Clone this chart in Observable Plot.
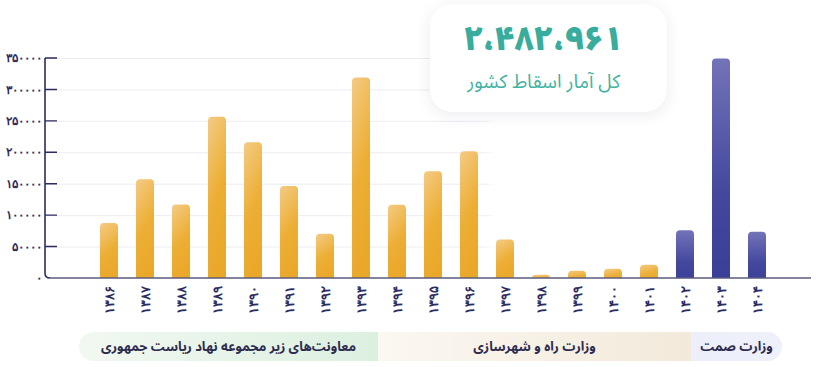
<!DOCTYPE html>
<html><head><meta charset="utf-8">
<script src="https://cdn.jsdelivr.net/npm/d3@7"></script>
<script src="https://cdn.jsdelivr.net/npm/@observablehq/plot@0.6"></script>
<style>
html,body{margin:0;padding:0;background:#fff;}
#wrap{position:relative;width:820px;height:367px;overflow:hidden;font-family:"Noto Sans Arabic","Vazirmatn","DejaVu Sans",sans-serif;}
#chart{position:absolute;left:0;top:0;}
#card{position:absolute;left:430px;top:4px;width:237px;height:108px;background:#fff;border-radius:22px;box-shadow:0 3px 16px rgba(40,40,90,0.09);}
#total{position:absolute;right:44px;top:21px;font-size:33px;font-weight:900;color:#38ad9d;line-height:30px;height:30px;white-space:nowrap;}
#sub{position:absolute;right:47px;top:68px;font-size:19px;font-weight:400;color:#3fb3a3;line-height:20px;height:20px;white-space:nowrap;}
#band{position:absolute;left:79px;top:332px;width:703px;height:29px;border-radius:15px;overflow:hidden;display:flex;direction:ltr;}
#band div{height:100%;display:flex;align-items:center;justify-content:center;font-size:13px;font-weight:700;color:#2d2b4e;white-space:nowrap;}
</style></head>
<body><div id="wrap"><div id="chart"></div>
<div id="card"><div id="total" dir="rtl"></div><div id="sub" dir="rtl"></div></div>
<div id="band"></div></div>
<script>
const years = [1386,1387,1388,1389,1390,1391,1392,1393,1394,1395,1396,1397,1398,1399,1400,1401,1402,1403,1404];
const values = [87400,157000,117000,256700,216000,146500,70300,319000,116600,169800,201800,61200,5300,11700,14900,21200,76000,349200,73500];
const groupNames = ["معاونت‌های زیر مجموعه نهاد ریاست جمهوری","وزارت راه و شهرسازی","وزارت صمت"];
const groupSizes = [8,8,3];
const yTicks = [0,50000,100000,150000,200000,250000,300000,350000];
const totalValue = "۲،۴۸۲،۹۶۱";
const totalLabel = "کل آمار اسقاط کشور";

const fa = v => String(v).replace(/\d/g, d => "۰۱۲۳۴۵۶۷۸۹"[d]);
const groupOf = [];
groupSizes.forEach((n,g)=>{for(let i=0;i<n;i++) groupOf.push(g);});
const data = years.map((yr,i)=>({year: fa(yr), value: values[i], group: groupOf[i]}));

const navy = "#2e2b5f";
const plot = Plot.plot({
  width: 820, height: 325,
  marginLeft: 45, marginRight: 9, marginTop: 58, marginBottom: 47,
  x: {domain: data.map(d=>d.year), range: [72, 793], paddingInner: 0.51, paddingOuter: 0.51, align: 0.5, label: null},
  y: {domain: [0, 350000], label: null},
  style: {background: "transparent"},
  marks: [
    Plot.gridY(yTicks.slice(1), {stroke: "url(#gridFade)", strokeOpacity: 1, strokeWidth: 1}),
    Plot.barY(data.filter(d=>d.group<2), {x: "year", y: "value", fill: "url(#gOrange)", rx: 4, insetBottom: -6, clip: true}),
    Plot.barY(data.filter(d=>d.group===2), {x: "year", y: "value", fill: "url(#gBlue)", rx: 4, insetBottom: -6, clip: true}),
    Plot.axisY(yTicks, {tickSize: 0, tickPadding: 4, tickFormat: v => fa(v), fontSize: 11.5, fontWeight: 700, fill: navy, label: null}),
    Plot.axisX({tickSize: 0, tickRotate: -90, tickPadding: 7, fontSize: 13, fontWeight: 700, fill: navy, label: null})
  ]
});
document.getElementById("chart").appendChild(plot);

const svg = d3.select(plot);
const defs = svg.insert("defs", ":first-child");
const gf = defs.append("linearGradient").attr("id","gridFade").attr("gradientUnits","userSpaceOnUse")
  .attr("x1",45).attr("x2",811).attr("y1",0).attr("y2",0);
gf.append("stop").attr("offset",0).attr("stop-color","#ececf2");
gf.append("stop").attr("offset",0.57).attr("stop-color","#ececf2");
gf.append("stop").attr("offset",0.59).attr("stop-color","#ececf2").attr("stop-opacity",0);
const go = defs.append("linearGradient").attr("id","gOrange").attr("x1",0).attr("x2",0.25).attr("y1",0).attr("y2",1);
go.append("stop").attr("offset",0).attr("stop-color","#f4cb84");
go.append("stop").attr("offset",0.55).attr("stop-color","#ecae35");
go.append("stop").attr("offset",1).attr("stop-color","#eaa82a");
const gb = defs.append("linearGradient").attr("id","gBlue").attr("x1",0).attr("x2",0).attr("y1",0).attr("y2",1);
gb.append("stop").attr("offset",0).attr("stop-color","#7373b9");
gb.append("stop").attr("offset",0.6).attr("stop-color","#43489d");
gb.append("stop").attr("offset",1).attr("stop-color","#3a3f97");

const ys = plot.scale("y");
const yTop = ys.apply(350000), yB = ys.apply(0);
const ax = 45;
svg.append("path").attr("fill","none").attr("stroke","#5d5b7e").attr("stroke-width",1.6)
  .attr("d", `M${ax+5},${yB}H811`);
svg.append("path").attr("fill","none").attr("stroke",navy).attr("stroke-width",1.6)
  .attr("d", `M${ax},${yTop}V${yB-5}Q${ax},${yB} ${ax+5},${yB}`);
svg.append("path").attr("fill","none").attr("stroke",navy).attr("stroke-width",1.4)
  .attr("d", yTicks.slice(1).map(t=>`M${ax},${ys.apply(t)}h12`).join(""));

document.getElementById("total").textContent = totalValue;
document.getElementById("sub").textContent = totalLabel;

const segW = [299, 313, 91];
const segBg = ["linear-gradient(90deg,#f1f8f1,#dcf0e0)","linear-gradient(90deg,#fbf8f1,#f2e9da)","linear-gradient(90deg,#eceefa,#eef0fa)"];
const band = d3.select("#band");
groupNames.forEach((n,i)=>{
  band.append("div").attr("dir","rtl").style("width",segW[i]+"px").style("background",segBg[i]).text(n);
});
</script></body></html>
